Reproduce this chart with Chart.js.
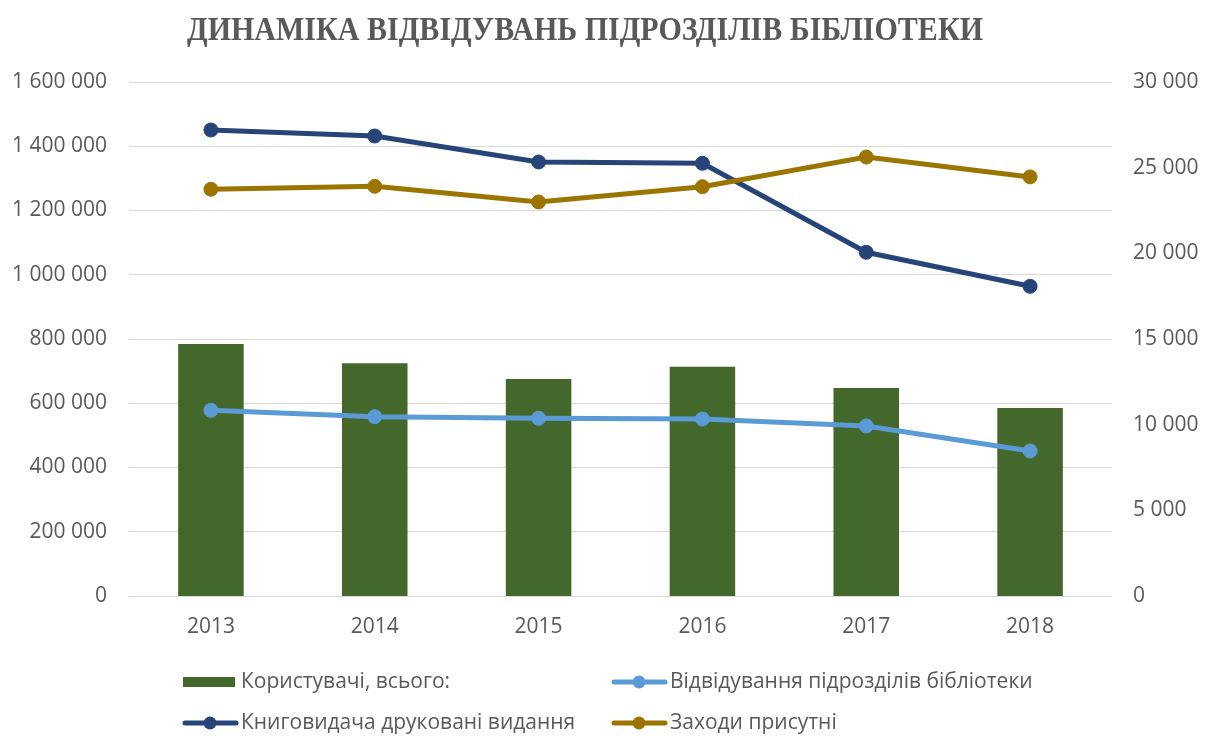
<!DOCTYPE html>
<html>
<head>
<meta charset="utf-8">
<script src="https://cdn.jsdelivr.net/npm/chart.js@4/dist/chart.umd.min.js"></script>
<style>
    html, body { margin: 0; padding: 0; background: #fff; }
    #box { width: 1216px; height: 738px; position: relative; }
</style>
</head>
<body>
<div id="box"><canvas id="grafico"></canvas></div>
<script>
//Dados
const anos = ['2013', '2014', '2015', '2016', '2017', '2018']
const koristuvachi = [14710, 13580, 12670, 13380, 12140, 10970]
const vidviduvannia = [578000, 558200, 553100, 551000, 529200, 451400]
const knigovidacha = [1450600, 1431900, 1351000, 1346900, 1069900, 964000]
const zakhodi = [23740, 23910, 23000, 23890, 25620, 24460]

const titulo = 'ДИНАМІКА ВІДВІДУВАНЬ ПІДРОЗДІЛІВ БІБЛІОТЕКИ'
const fonte = '"Open Sans", "Liberation Sans", sans-serif'
const cinza = '#595959'

//Formato 1 600 000
const formatar = v => String(v).replace(/\B(?=(\d{3})+(?!\d))/g, ' ')

//Titulo e legenda desenhados a mao
const extras = {
    id: 'extras',
    afterDraw(chart) {
        const ctx = chart.ctx
        ctx.save()
        //titulo condensado
        ctx.font = 'bold 34px "Liberation Serif", serif'
        ctx.fillStyle = cinza
        ctx.textBaseline = 'alphabetic'
        const w = ctx.measureText(titulo).width
        const escala = 796 / w
        ctx.translate(187, 40)
        ctx.scale(escala, 1)
        ctx.fillText(titulo, 0, 0)
        ctx.restore()

        //legenda
        const pos = [[183, 682], [612, 682], [183, 723], [612, 723]]
        ctx.save()
        ctx.font = '21px ' + fonte
        ctx.textBaseline = 'middle'
        chart.data.datasets.forEach((ds, k) => {
            const [x, y] = pos[k]
            if (ds.type === 'bar') {
                ctx.fillStyle = ds.backgroundColor
                ctx.fillRect(x, y - 5, 52, 10)
            } else {
                ctx.strokeStyle = ds.borderColor
                ctx.lineWidth = 5
                ctx.lineCap = 'round'
                ctx.beginPath()
                ctx.moveTo(x + 2, y)
                ctx.lineTo(x + 53, y)
                ctx.stroke()
                ctx.fillStyle = ds.borderColor
                ctx.beginPath()
                ctx.arc(x + 27, y, 6.5, 0, Math.PI * 2)
                ctx.fill()
            }
            ctx.fillStyle = cinza
            ctx.fillText(ds.label, x + 58, y)
        })
        ctx.restore()
    }
}

let ctxGrafico = document.getElementById('grafico')
let grafico = new Chart(ctxGrafico, {
    data: {
        labels: anos,
        datasets: [{
            type: 'bar',
            label: 'Користувачі, всього:',
            data: koristuvachi,
            backgroundColor: '#44682c',
            yAxisID: 'y1',
            barPercentage: 0.4,
            categoryPercentage: 1,
            order: 10
        }, {
            type: 'line',
            label: 'Відвідування підрозділів бібліотеки',
            data: vidviduvannia,
            borderColor: '#5b9bd5',
            backgroundColor: '#5b9bd5',
            yAxisID: 'y',
            borderWidth: 5,
            pointRadius: 7,
            pointBorderWidth: 1,
            tension: 0,
            order: 3
        }, {
            type: 'line',
            label: 'Книговидача друковані видання',
            data: knigovidacha,
            borderColor: '#264478',
            backgroundColor: '#264478',
            yAxisID: 'y',
            borderWidth: 5,
            pointRadius: 7,
            pointBorderWidth: 1,
            tension: 0,
            order: 2
        }, {
            type: 'line',
            label: 'Заходи присутні',
            data: zakhodi,
            borderColor: '#9c7500',
            backgroundColor: '#9c7500',
            yAxisID: 'y1',
            borderWidth: 5,
            pointRadius: 7,
            pointBorderWidth: 1,
            tension: 0,
            order: 1
        }]
    },
    options: {
        responsive: true,
        maintainAspectRatio: false,
        animation: false,
        layout: { padding: { top: 82, left: 0, right: 0, bottom: 0 } },
        plugins: {
            legend: { display: false },
            title: { display: false },
            tooltip: { enabled: false }
        },
        scales: {
            x: {
                grid: { display: false, drawTicks: false },
                border: { display: false },
                ticks: { color: cinza, font: { family: fonte, size: 21 }, padding: 18 },
                afterFit: s => { s.height = 142 }
            },
            y: {
                position: 'left',
                min: 0,
                max: 1600000,
                grid: { color: '#d9d9d9', lineWidth: 1, drawTicks: false },
                border: { display: false },
                ticks: { stepSize: 200000, color: cinza, font: { family: fonte, size: 21 }, padding: 22, callback: v => formatar(v) },
                afterFit: s => { s.width = 129 }
            },
            y1: {
                position: 'right',
                min: 0,
                max: 30000,
                grid: { display: false, drawTicks: false },
                border: { display: false },
                ticks: { stepSize: 5000, color: cinza, font: { family: fonte, size: 21 }, padding: 21, callback: v => formatar(v) },
                afterFit: s => { s.width = 104 }
            }
        }
    },
    plugins: [extras]
})
</script>
</body>
</html>
